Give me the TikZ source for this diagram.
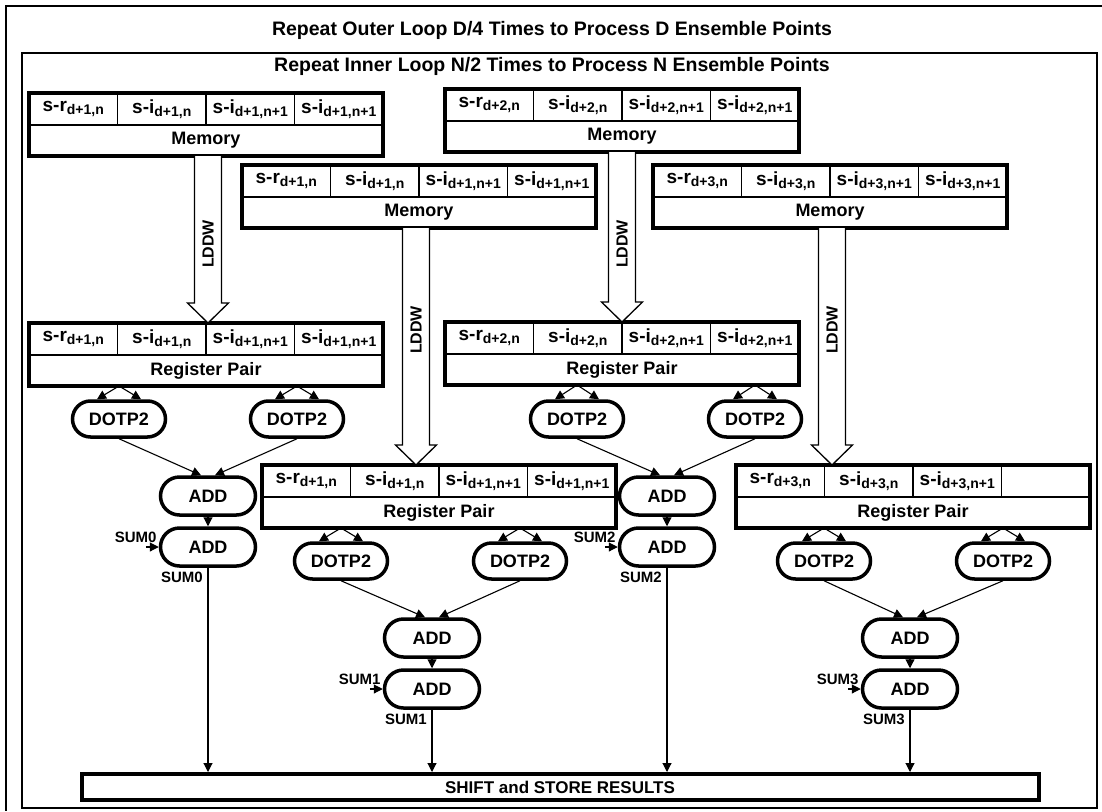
\documentclass[tikz,border=0pt]{standalone}
\usepackage{fontspec}
\setmainfont{Liberation Sans}
\usetikzlibrary{positioning,shapes.misc,arrows.meta,calc}

\tikzset{
  cellbox/.style={draw, line width=1.2pt, minimum width=88.5pt, minimum height=32pt, inner sep=0pt, outer sep=0pt, font=\bfseries},
  tagbox/.style={draw, line width=1.2pt, minimum width=354pt, minimum height=31pt, inner sep=0pt, outer sep=0pt, font=\bfseries\fontsize{18}{18}\selectfont},
  blockline/.style={line width=4pt},
  opnode/.style={rounded rectangle, draw, line width=3.5pt, minimum width=93pt, minimum height=36pt, inner sep=0pt, font=\bfseries\fontsize{18}{18}\selectfont},
  addnode/.style={opnode, minimum width=95pt, minimum height=38pt},
  wire/.style={line width=1.1pt, -{Triangle[length=9pt,width=9pt]}},
  hollow/.style={line width=1.3pt, fill=white},
  lddwlabel/.style={rotate=90, font=\bfseries\fontsize{16}{16}\selectfont},
  sumlabel/.style={font=\bfseries\fontsize{15}{15}\selectfont, inner sep=1pt},
  titletext/.style={font=\bfseries\fontsize{19.5}{19.5}\selectfont},
  frameline/.style={line width=1.3pt}
}

% cell text: big name, lowered index
\newcommand{\sv}[2]{{\fontsize{19}{19}\selectfont #1}\raisebox{-2.5pt}{\fontsize{14}{14}\selectfont #2}}

% block of four cells with a caption row
\newcommand{\regblock}[7]{%
  \node[cellbox, anchor=north west] (#1a) at #2 {#4};
  \node[cellbox, right=0pt of #1a] (#1b) {#5};
  \node[cellbox, right=0pt of #1b] (#1c) {#6};
  \node[cellbox, right=0pt of #1c] (#1d) {#7};
  \node[tagbox, anchor=north west] (#1t) at (#1a.south west) {#3};
  \draw[blockline] (#1a.north west) rectangle (#1t.south east);
}

% hollow load arrow
\newcommand{\lddw}[5]{%
  \draw[hollow] let \p1=(#2.south), \p2=(#3.north) in
    (#1pt-13.5pt,\y1) -- (#1pt-13.5pt,\y2+20pt) -- (#1pt-20.5pt,\y2+20pt) -- (#1pt,\y2)
    -- (#1pt+20.5pt,\y2+20pt) -- (#1pt+13.5pt,\y2+20pt) -- (#1pt+13.5pt,\y1);
  \node[lddwlabel] (#5) at (#1,#4) {LDDW};
}

% two operands from a register pair into one DOTP2
\newcommand{\fan}[2]{%
  \draw[wire] (#2.north |- #1.south) -- ([xshift=-22pt]#2.north);
  \draw[wire] (#2.north |- #1.south) -- ([xshift=22pt]#2.north);
}

\begin{document}
\begin{tikzpicture}[x=1pt, y=-1pt]
\useasboundingbox (0,0) rectangle (1102,811);

% loop frames
\draw[frameline] (1102,6) -- (6,6) -- (6,811);
\draw[frameline] (22,53) rectangle (1097,808);
\node[titletext] (outerloop) at (552,30) {Repeat Outer Loop D/4 Times to Process D Ensemble Points};
\node[titletext] (innerloop) at (552,66) {Repeat Inner Loop N/2 Times to Process N Ensemble Points};

% memories
\regblock{memA}{(29,93)}{Memory}{\sv{s-r}{d+1,n}}{\sv{s-i}{d+1,n}}{\sv{s-i}{d+1,n+1}}{\sv{s-i}{d+1,n+1}}
\regblock{memC}{(445,89)}{Memory}{\sv{s-r}{d+2,n}}{\sv{s-i}{d+2,n}}{\sv{s-i}{d+2,n+1}}{\sv{s-i}{d+2,n+1}}
\regblock{memB}{(242,165)}{Memory}{\sv{s-r}{d+1,n}}{\sv{s-i}{d+1,n}}{\sv{s-i}{d+1,n+1}}{\sv{s-i}{d+1,n+1}}
\regblock{memD}{(653,165)}{Memory}{\sv{s-r}{d+3,n}}{\sv{s-i}{d+3,n}}{\sv{s-i}{d+3,n+1}}{\sv{s-i}{d+3,n+1}}

% register pairs
\regblock{regA}{(29,323)}{Register Pair}{\sv{s-r}{d+1,n}}{\sv{s-i}{d+1,n}}{\sv{s-i}{d+1,n+1}}{\sv{s-i}{d+1,n+1}}
\regblock{regC}{(445,322)}{Register Pair}{\sv{s-r}{d+2,n}}{\sv{s-i}{d+2,n}}{\sv{s-i}{d+2,n+1}}{\sv{s-i}{d+2,n+1}}
\regblock{regB}{(262,465)}{Register Pair}{\sv{s-r}{d+1,n}}{\sv{s-i}{d+1,n}}{\sv{s-i}{d+1,n+1}}{\sv{s-i}{d+1,n+1}}
\regblock{regD}{(736,465)}{Register Pair}{\sv{s-r}{d+3,n}}{\sv{s-i}{d+3,n}}{\sv{s-i}{d+3,n+1}}{}

% loads
\lddw{208}{memAt}{regAa}{244}{ldA}
\lddw{416}{memBt}{regBa}{330}{ldB}
\lddw{622}{memCt}{regCa}{244}{ldC}
\lddw{832}{memDt}{regDa}{330}{ldD}

% results box
\node[draw, line width=4pt, minimum width=957pt, minimum height=26pt, inner sep=0pt,
      font=\bfseries\fontsize{17}{17}\selectfont] (res) at (560,787) {SHIFT and STORE RESULTS};

% column 0
\node[opnode] (dotA1) at (119,419) {DOTP2};
\node[opnode] (dotA2) at (297,419) {DOTP2};
\node[addnode] (addA1) at (208,496) {ADD};
\node[addnode] (addA2) at (208,547) {ADD};
\fan{regAt}{dotA1}
\fan{regAt}{dotA2}
\draw[wire] (dotA1.south) -- ([xshift=-7pt]addA1.north);
\draw[wire] (dotA2.south) -- ([xshift=7pt]addA1.north);
\draw[wire] (addA1.south) -- (addA2.north);
\coordinate (inA) at ([xshift=-13pt]addA2.west);
\draw[wire] (inA) -- (addA2.west);
\node[sumlabel, anchor=south east] (sumA1) at ([xshift=-1pt,yshift=3pt]addA2.west) {SUM0};
\node[sumlabel, anchor=north east] (sumA2) at ([xshift=-4pt,yshift=-3pt]addA2.south) {SUM0};
\draw[wire] (addA2.south) -- (addA2.south |- res.north);

% column 1
\node[opnode] (dotB1) at (341,561) {DOTP2};
\node[opnode] (dotB2) at (520,561) {DOTP2};
\node[addnode] (addB1) at (432,638) {ADD};
\node[addnode] (addB2) at (432,689) {ADD};
\fan{regBt}{dotB1}
\fan{regBt}{dotB2}
\draw[wire] (dotB1.south) -- ([xshift=-7pt]addB1.north);
\draw[wire] (dotB2.south) -- ([xshift=7pt]addB1.north);
\draw[wire] (addB1.south) -- (addB2.north);
\coordinate (inB) at ([xshift=-13pt]addB2.west);
\draw[wire] (inB) -- (addB2.west);
\node[sumlabel, anchor=south east] (sumB1) at ([xshift=-1pt,yshift=3pt]addB2.west) {SUM1};
\node[sumlabel, anchor=north east] (sumB2) at ([xshift=-4pt,yshift=-3pt]addB2.south) {SUM1};
\draw[wire] (addB2.south) -- (addB2.south |- res.north);

% column 2
\node[opnode] (dotC1) at (577,419) {DOTP2};
\node[opnode] (dotC2) at (755,419) {DOTP2};
\node[addnode] (addC1) at (667,496) {ADD};
\node[addnode] (addC2) at (667,547) {ADD};
\fan{regCt}{dotC1}
\fan{regCt}{dotC2}
\draw[wire] (dotC1.south) -- ([xshift=-7pt]addC1.north);
\draw[wire] (dotC2.south) -- ([xshift=7pt]addC1.north);
\draw[wire] (addC1.south) -- (addC2.north);
\coordinate (inC) at ([xshift=-13pt]addC2.west);
\draw[wire] (inC) -- (addC2.west);
\node[sumlabel, anchor=south east] (sumC1) at ([xshift=-1pt,yshift=3pt]addC2.west) {SUM2};
\node[sumlabel, anchor=north east] (sumC2) at ([xshift=-4pt,yshift=-3pt]addC2.south) {SUM2};
\draw[wire] (addC2.south) -- (addC2.south |- res.north);

% column 3
\node[opnode] (dotD1) at (824,561) {DOTP2};
\node[opnode] (dotD2) at (1003,561) {DOTP2};
\node[addnode] (addD1) at (910,638) {ADD};
\node[addnode] (addD2) at (910,689) {ADD};
\fan{regDt}{dotD1}
\fan{regDt}{dotD2}
\draw[wire] (dotD1.south) -- ([xshift=-7pt]addD1.north);
\draw[wire] (dotD2.south) -- ([xshift=7pt]addD1.north);
\draw[wire] (addD1.south) -- (addD2.north);
\coordinate (inD) at ([xshift=-13pt]addD2.west);
\draw[wire] (inD) -- (addD2.west);
\node[sumlabel, anchor=south east] (sumD1) at ([xshift=-1pt,yshift=3pt]addD2.west) {SUM3};
\node[sumlabel, anchor=north east] (sumD2) at ([xshift=-4pt,yshift=-3pt]addD2.south) {SUM3};
\draw[wire] (addD2.south) -- (addD2.south |- res.north);
\end{tikzpicture}
\end{document}
